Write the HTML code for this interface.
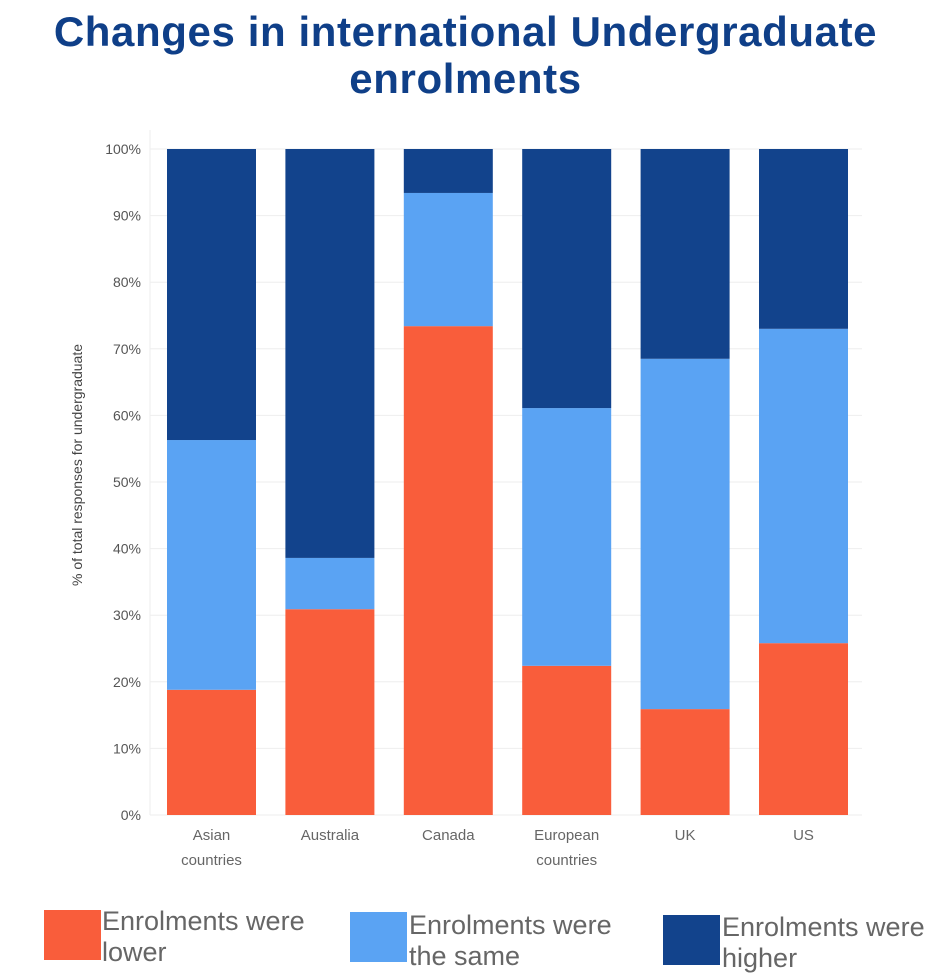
<!DOCTYPE html>
<html><head><meta charset="utf-8"><style>
body{margin:0;width:931px;height:978px;background:#fff;overflow:hidden;font-family:"Liberation Sans",sans-serif}
#title{position:absolute;left:0;width:931px;top:8px;text-align:center;color:#0f3f88;font-weight:bold;font-size:42px;line-height:47px;letter-spacing:0.6px}
.leg{position:absolute;font-size:27px;color:#666;line-height:31px}
.sw{position:absolute;width:57px;height:50px}
</style></head><body>
<div id="title">Changes in international Undergraduate<br>enrolments</div>
<svg id="chart" width="931" height="900" style="position:absolute;left:0;top:0"></svg>
<div class="sw" style="left:44px;top:910px;background:#f95d3b"></div>
<div class="leg" style="left:102px;top:906px">Enrolments were<br>lower</div>
<div class="sw" style="left:350px;top:912px;background:#5aa3f3"></div>
<div class="leg" style="left:409px;top:910px">Enrolments were<br>the same</div>
<div class="sw" style="left:663px;top:915px;background:#12438c"></div>
<div class="leg" style="left:722px;top:912px">Enrolments were<br>higher</div>
<script>
const categories=[["Asian","countries"],["Australia"],["Canada"],["European","countries"],["UK"],["US"]];
const lower=[18.8,30.9,73.4,22.4,15.9,25.8];
const same=[37.5,7.7,20.0,38.7,52.6,47.2];
const higher=[43.7,61.4,6.6,38.9,31.5,27.0];
const ticks=[0,10,20,30,40,50,60,70,80,90,100];
const svg=document.getElementById('chart');
const NS='http://www.w3.org/2000/svg';
const y0=815,y1=149,left=150,right=862;
const y=v=>y0-(y0-y1)*v/100;
const bx=i=>167+i*118.4;
const bw=89;
function mk(t,a){const e=document.createElementNS(NS,t);for(const k in a)e.setAttribute(k,a[k]);svg.appendChild(e);return e;}
ticks.forEach(t=>{
 const g=mk('line',{x1:left,x2:right,y1:y(t),y2:y(t),stroke:'#eee','stroke-width':1});
 
 
 const l=mk('text',{x:141,y:y(t)+5,'text-anchor':'end','font-size':14,fill:'#555','font-family':'Liberation Sans, sans-serif'});
 l.textContent=t+'%';
 
 
});
const ax=mk('line',{x1:left,x2:left,y1:130,y2:y0,stroke:'#eee'});


const series=[[lower,'#f95d3b','lower'],[same,'#5aa3f3','same'],[higher,'#12438c','higher']];
categories.forEach((c,i)=>{
 let acc=0;
 series.forEach(([arr,col,nm])=>{
  const v=arr[i];
  const r=mk('rect',{x:bx(i),width:bw,y:y(acc+v),height:y(acc)-y(acc+v),fill:col});
  
  
  acc+=v;
 });
 c.forEach((s,j)=>{
  const t=mk('text',{x:bx(i)+bw/2,y:840+j*25,'text-anchor':'middle','font-size':15,fill:'#666','font-family':'Liberation Sans, sans-serif'});
  t.textContent=s;
  
  
 });
});
const yt=mk('text',{transform:'translate(82,465) rotate(-90)','text-anchor':'middle','font-size':14,fill:'#444','font-family':'Liberation Sans, sans-serif'});
yt.textContent='% of total responses for undergraduate';


</script>
</body></html>
